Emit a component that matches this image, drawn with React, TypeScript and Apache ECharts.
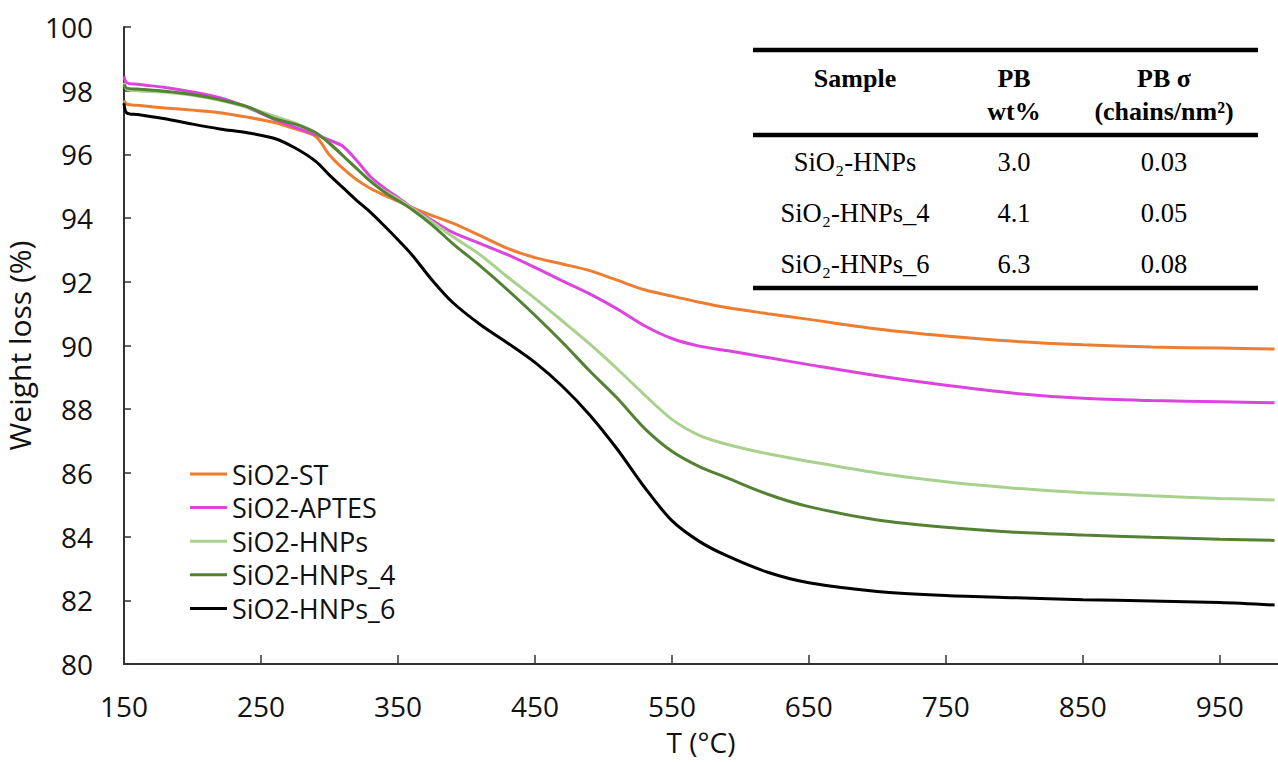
import React, { useEffect, useRef } from "react";
import * as echarts from "echarts";

const temps = [150, 152, 160, 180, 200, 220, 240, 260, 275, 290, 300, 310, 320, 330, 340, 350, 360, 375, 390, 410, 430, 450, 470, 490, 510, 530, 550, 570, 590, 620, 650, 700, 750, 800, 850, 900, 950, 990];

const sio2ST = [97.7, 97.58, 97.54, 97.46, 97.39, 97.31, 97.17, 97.0, 96.8, 96.56, 95.98, 95.55, 95.2, 94.93, 94.72, 94.53, 94.34, 94.08, 93.84, 93.45, 93.05, 92.76, 92.56, 92.35, 92.05, 91.75, 91.55, 91.36, 91.19, 91.0, 90.82, 90.52, 90.3, 90.13, 90.02, 89.95, 89.92, 89.89];
const sio2APTES = [98.45, 98.25, 98.2, 98.1, 97.96, 97.78, 97.48, 97.1, 96.85, 96.62, 96.45, 96.25, 95.8, 95.3, 94.95, 94.65, 94.33, 93.93, 93.55, 93.2, 92.85, 92.45, 92.03, 91.62, 91.15, 90.62, 90.22, 89.98, 89.84, 89.62, 89.4, 89.05, 88.75, 88.5, 88.34, 88.27, 88.23, 88.2];
const sio2HNPs = [98.25, 98.05, 98.0, 97.95, 97.86, 97.7, 97.48, 97.2, 96.98, 96.68, 96.35, 95.95, 95.55, 95.17, 94.85, 94.6, 94.32, 93.88, 93.42, 92.85, 92.15, 91.48, 90.77, 90.05, 89.27, 88.45, 87.68, 87.18, 86.9, 86.6, 86.36, 86.0, 85.72, 85.52, 85.38, 85.28, 85.2, 85.15];
const sio2HNPs4 = [98.2, 98.08, 98.05, 97.98, 97.88, 97.72, 97.5, 97.12, 96.95, 96.68, 96.35, 95.95, 95.55, 95.15, 94.82, 94.55, 94.28, 93.78, 93.2, 92.5, 91.75, 90.95, 90.1, 89.2, 88.35, 87.4, 86.68, 86.2, 85.85, 85.33, 84.94, 84.52, 84.29, 84.14, 84.05, 83.98, 83.92, 83.88];
const sio2HNPs6 = [97.6, 97.3, 97.25, 97.12, 96.95, 96.8, 96.68, 96.5, 96.2, 95.78, 95.35, 94.95, 94.55, 94.18, 93.76, 93.32, 92.86, 92.05, 91.35, 90.66, 90.08, 89.47, 88.72, 87.82, 86.75, 85.55, 84.5, 83.85, 83.4, 82.88, 82.55, 82.28, 82.15, 82.08, 82.02, 81.98, 81.93, 81.85];

const seriesNames = ["SiO2-ST", "SiO2-APTES", "SiO2-HNPs", "SiO2-HNPs_4", "SiO2-HNPs_6"];
const seriesValues = [sio2ST, sio2APTES, sio2HNPs, sio2HNPs4, sio2HNPs6];
const seriesColors = ["#ED7D31", "#DD44DD", "#A9D18E", "#548235", "#000000"];

const tableHeader1 = ["Sample", "PB", "PB σ"];
const tableHeader2 = ["", "wt%", "(chains/nm²)"];
const tableSamples = ["SiO₂-HNPs", "SiO₂-HNPs_4", "SiO₂-HNPs_6"];
const tableWt = ["3.0", "4.1", "6.3"];
const tableSigma = ["0.03", "0.05", "0.08"];

export default function App() {
  const ref = useRef<HTMLDivElement>(null);
  useEffect(() => {
    if (!ref.current) return;
    const chart = echarts.init(ref.current, null, { renderer: "svg" });
    const colX = [855, 1014, 1164];
    const rowY = [162, 213, 264];
    const serif = "'Liberation Serif', 'Times New Roman', serif";
    const graphic: any[] = [];
    [50, 135, 288].forEach((y) => {
      graphic.push({ type: "line", shape: { x1: 753, y1: y, x2: 1258, y2: y }, style: { stroke: "#000", lineWidth: 4.5 }, z: 10 });
    });
    tableHeader1.forEach((t, i) => {
      graphic.push({ type: "text", x: colX[i], y: 78, style: { text: t, fontSize: 26, fontWeight: "bold", fontFamily: serif, fill: "#000", align: "center", verticalAlign: "middle" }, z: 10 });
    });
    tableHeader2.forEach((t, i) => {
      if (!t) return;
      graphic.push({ type: "text", x: colX[i], y: 111, style: { text: t, fontSize: 26, fontWeight: "bold", fontFamily: serif, fill: "#000", align: "center", verticalAlign: "middle" }, z: 10 });
    });
    tableSamples.forEach((s, r) => {
      [s, tableWt[r], tableSigma[r]].forEach((t, i) => {
        graphic.push({ type: "text", x: colX[i], y: rowY[r], style: { text: t, fontSize: 26.5, fontFamily: serif, fill: "#000", align: "center", verticalAlign: "middle" }, z: 10 });
      });
    });

    const font = "'Open Sans', sans-serif";
    chart.setOption({
      animation: false,
      backgroundColor: "#fff",
      grid: { left: 124, right: 0, top: 27, bottom: 98, containLabel: false, outerBoundsMode: "none" },
      legend: {
        orient: "vertical",
        left: 185,
        top: 455,
        icon: "rect",
        itemWidth: 37,
        itemHeight: 3,
        itemGap: 5.6,
        data: seriesNames,
        textStyle: { fontFamily: font, fontSize: 27, color: "#111", lineHeight: 28 },
      },
      xAxis: {
        type: "value",
        min: 150,
        max: 992.5,
        interval: 100,
        name: "T (°C)",
        nameLocation: "middle",
        nameGap: 64,
        nameTextStyle: { fontFamily: font, fontSize: 28, color: "#111" },
        axisLine: { lineStyle: { color: "#333", width: 2 } },
        axisTick: { inside: true, length: 9, lineStyle: { color: "#333", width: 1.5 } },
        axisLabel: { fontFamily: font, fontSize: 28, color: "#111", margin: 28, showMaxLabel: false },
        splitLine: { show: false },
      },
      yAxis: {
        type: "value",
        min: 80,
        max: 100,
        interval: 2,
        name: "Weight loss (%)",
        nameLocation: "middle",
        nameRotate: 90,
        nameGap: 70,
        nameTextStyle: { fontFamily: font, fontSize: 30, color: "#111" },
        axisLine: { show: true, lineStyle: { color: "#333", width: 2 } },
        axisTick: { show: true, inside: true, length: 7, lineStyle: { color: "#333", width: 1.5 } },
        axisLabel: { fontFamily: font, fontSize: 28, color: "#111", margin: 31 },
        splitLine: { show: false },
      },
      graphic,
      series: seriesNames.map((name, i) => ({
        name,
        type: "line",
        smooth: 0.3,
        symbol: "none",
        color: seriesColors[i],
        lineStyle: { width: 3, color: seriesColors[i] },
        data: temps.map((t, j) => [t, seriesValues[i][j]]),
      })),
    });
    return () => chart.dispose();
  }, []);
  return <div ref={ref} style={{ position: "absolute", left: 0, top: 0, width: 1278, height: 762 }} />;
}
